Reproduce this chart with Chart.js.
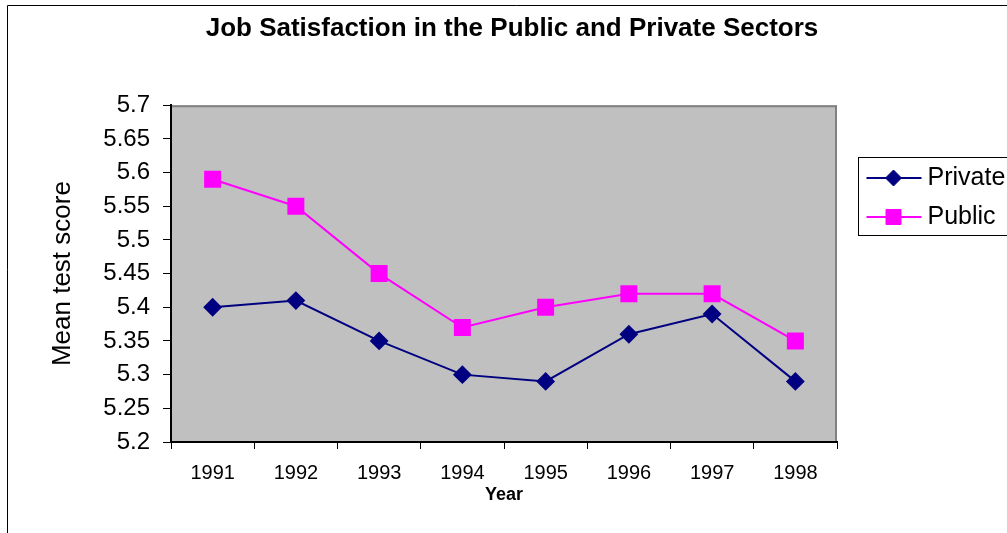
<!DOCTYPE html>
<html>
<head>
<meta charset="utf-8">
<script src="https://cdn.jsdelivr.net/npm/chart.js@4.4.0/dist/chart.umd.min.js"></script>
<style>
html,body{margin:0;padding:0;background:#fff;overflow:hidden;}
#wrap{position:relative;width:1007px;height:533px;overflow:hidden;}
canvas{display:block;}
</style>
</head>
<body>
<div id="wrap"><canvas id="c" width="1024" height="533"></canvas></div>
<script>
const years = ['1991', '1992', '1993', '1994', '1995', '1996', '1997', '1998'];
const privateScores = [5.40, 5.41, 5.35, 5.30, 5.29, 5.36, 5.39, 5.29];
const publicScores = [5.59, 5.55, 5.45, 5.37, 5.40, 5.42, 5.42, 5.35];
const yTickValues = [5.2, 5.25, 5.3, 5.35, 5.4, 5.45, 5.5, 5.55, 5.6, 5.65, 5.7];
const chartTitle = 'Job Satisfaction in the Public and Private Sectors';
const xTitle = 'Year';
const yTitle = 'Mean test score';

const FONT = "'Liberation Sans', Arial, Helvetica, sans-serif";

const framePlugin = {
  id: 'frame',
  beforeDraw(chart) {
    const ctx = chart.ctx;
    const a = chart.chartArea;
    ctx.save();
    ctx.fillStyle = '#ffffff';
    ctx.fillRect(0, 0, chart.width, chart.height);
    // outer chart frame
    ctx.strokeStyle = '#000000';
    ctx.lineWidth = 1;
    ctx.beginPath();
    ctx.moveTo(7.5, chart.height + 5);
    ctx.lineTo(7.5, 5.5);
    ctx.lineTo(chart.width + 5, 5.5);
    ctx.stroke();
    // plot area
    ctx.fillStyle = '#c0c0c0';
    ctx.fillRect(a.left, a.top, a.right - a.left, a.bottom - a.top);
    ctx.strokeStyle = '#808080';
    ctx.lineWidth = 2;
    ctx.beginPath();
    ctx.moveTo(a.left, a.top + 1);
    ctx.lineTo(a.right - 1, a.top + 1);
    ctx.lineTo(a.right - 1, a.bottom);
    ctx.stroke();
    ctx.restore();
  }
};

const legendPlugin = {
  id: 'boxLegend',
  afterDraw(chart) {
    const ctx = chart.ctx;
    const a = chart.chartArea;
    const x0 = a.right + 21.5, y0 = 157.5, w = 200, h = 78;
    ctx.save();
    ctx.fillStyle = '#ffffff';
    ctx.fillRect(x0, y0, w, h);
    ctx.strokeStyle = '#000000';
    ctx.lineWidth = 1;
    ctx.strokeRect(x0, y0, w, h);
    const rows = [178, 217];
    chart.data.datasets.forEach((ds, i) => {
      const y = rows[i];
      ctx.strokeStyle = ds.borderColor;
      ctx.lineWidth = ds.borderWidth;
      ctx.beginPath();
      ctx.moveTo(x0 + 8, y);
      ctx.lineTo(x0 + 63, y);
      ctx.stroke();
      ctx.fillStyle = ds.pointBackgroundColor;
      ctx.strokeStyle = ds.pointBorderColor;
      ctx.lineWidth = 1;
      Chart.helpers.drawPoint(ctx, {pointStyle: ds.pointStyle, radius: ds.pointRadius, rotation: 0, borderWidth: 1}, x0 + 35, y);
      ctx.fillStyle = '#000000';
      ctx.font = '25px ' + FONT;
      ctx.textBaseline = 'middle';
      ctx.textAlign = 'left';
      ctx.fillText(ds.label, x0 + 69, y);
    });
    ctx.restore();
  }
};

new Chart(document.getElementById('c'), {
  type: 'line',
  data: {
    labels: years,
    datasets: [
      {
        label: 'Private',
        data: privateScores,
        borderColor: '#000080',
        backgroundColor: '#000080',
        pointBackgroundColor: '#000080',
        pointBorderColor: '#000080',
        borderWidth: 2,
        pointStyle: 'rectRot',
        pointRadius: 8,
        pointHoverRadius: 8,
        tension: 0,
        fill: false
      },
      {
        label: 'Public',
        data: publicScores,
        borderColor: '#ff00ff',
        backgroundColor: '#ff00ff',
        pointBackgroundColor: '#ff00ff',
        pointBorderColor: '#ff00ff',
        borderWidth: 2,
        pointStyle: 'rect',
        pointRadius: 10.6,
        pointHoverRadius: 10.6,
        tension: 0,
        fill: false
      }
    ]
  },
  options: {
    responsive: false,
    animation: false,
    devicePixelRatio: 1,
    layout: {padding: {left: 0, right: 0, top: 0, bottom: 0}},
    plugins: {
      legend: {display: false},
      tooltip: {enabled: false},
      title: {
        display: true,
        text: chartTitle,
        color: '#000000',
        font: {family: FONT, size: 26, weight: 'bold'},
        padding: {top: 13, bottom: 61}
      }
    },
    scales: {
      x: {
        type: 'category',
        offset: true,
        grid: {offset: true, drawOnChartArea: false, drawTicks: true, tickLength: 7, color: '#000000', lineWidth: 1},
        border: {display: true, color: '#000000', width: 2},
        ticks: {color: '#000000', font: {family: FONT, size: 20}, padding: 12, maxRotation: 0, autoSkip: false},
        title: {display: true, text: xTitle, color: '#000000', font: {family: FONT, size: 18, weight: 'bold'}, padding: {top: 0, bottom: 27}},
        afterFit(s) { s.height = 91; }
      },
      y: {
        type: 'linear',
        min: 5.2,
        max: 5.7,
        grid: {drawOnChartArea: false, drawTicks: true, tickLength: 8, color: '#000000', lineWidth: 1},
        border: {display: true, color: '#000000', width: 2},
        afterBuildTicks(s) { s.ticks = yTickValues.map(v => ({value: v})); },
        ticks: {
          color: '#000000',
          font: {family: FONT, size: 24},
          padding: 13,
          callback: v => String(parseFloat(Number(v).toFixed(2)))
        },
        title: {display: true, text: yTitle, color: '#000000', font: {family: FONT, size: 26}, padding: {top: 47, bottom: 0}},
        afterFit(s) { s.width = 171; }
      },
      spacer: {
        type: 'linear',
        position: 'right',
        display: true,
        grid: {display: false, drawTicks: false},
        border: {display: false},
        ticks: {display: false},
        afterFit(s) { s.width = 1024 - 837; }
      }
    }
  },
  plugins: [framePlugin, legendPlugin]
});
</script>
</body>
</html>
